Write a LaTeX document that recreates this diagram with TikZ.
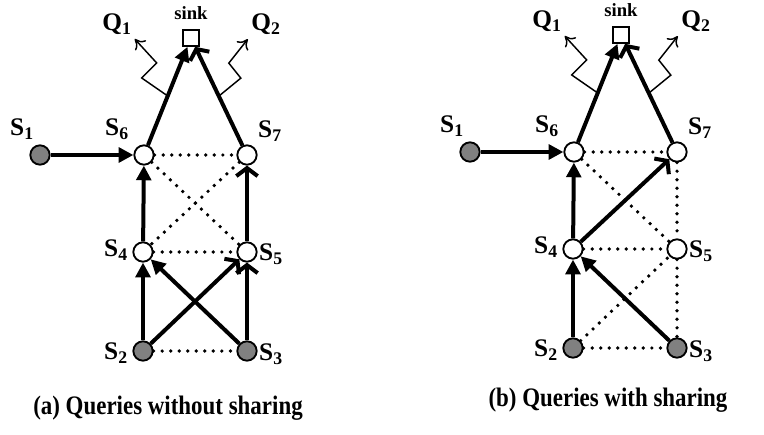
\documentclass[tikz,border=0pt]{standalone}
\usepackage{fontspec}
\setmainfont{Liberation Serif}
\usetikzlibrary{arrows.meta}
\definecolor{src-gray}{HTML}{808080}

\tikzset{
  sensor/.style={circle, draw, line width=1.4pt, fill=white,
                 inner sep=0pt, minimum size=14.5pt},
  source/.style={sensor, fill=src-gray},
  sinkbox/.style={draw, line width=1.2pt, fill=white, inner sep=0pt,
                  minimum size=12pt},
  lbl/.style={font=\bfseries\fontsize{19}{21}\selectfont, inner sep=0pt},
  sinklbl/.style={font=\bfseries\fontsize{14}{16}\selectfont, inner sep=0pt},
  caption/.style={font=\bfseries\fontsize{20}{23}\selectfont, xscale=0.86},
  flow/.style={line width=3pt, -{Triangle[length=11pt,width=11pt]}},
  flowopen/.style={line width=3pt,
                   -{Straight Barb[length=6pt,width=16pt,line width=3pt]}},
  link/.style={line width=2.8pt, dash pattern=on 0pt off 6.4pt, line cap=round},
  query/.style={line width=1.1pt, -{To[length=7pt,width=11pt]}}
}

\begin{document}
\begin{tikzpicture}[x=0.75pt, y=-0.75pt]
  \useasboundingbox (0,0) rectangle (764,435);

  % (a) every query builds its own tree
  \begin{scope}
    \node[source] (a-S1) at (40,155) {};
    \node[sensor] (a-S6) at (144,155) {};
    \node[sensor] (a-S7) at (247,155) {};
    \node[sensor] (a-S4) at (143,252) {};
    \node[sensor] (a-S5) at (247,252) {};
    \node[source] (a-S2) at (143,351) {};
    \node[source] (a-S3) at (247,351) {};
    \node[sinkbox] (a-sink) at (191,38) {};

    \node[lbl] (a-l1) at (22,129) {S\textsubscript{1}};
    \node[lbl] (a-l6) at (117,129) {S\textsubscript{6}};
    \node[lbl] (a-l7) at (270,131) {S\textsubscript{7}};
    \node[lbl] (a-l4) at (116,250) {S\textsubscript{4}};
    \node[lbl] (a-l5) at (271,254) {S\textsubscript{5}};
    \node[lbl] (a-l2) at (116,353) {S\textsubscript{2}};
    \node[lbl] (a-l3) at (271,354) {S\textsubscript{3}};
    \node[sinklbl] (a-ls) at (191,13) {sink};
    \node[lbl] (a-q1) at (117,24) {Q\textsubscript{1}};
    \node[lbl] (a-q2) at (266,24) {Q\textsubscript{2}};

    % radio links
    \draw[link] (a-S6) -- (a-S7);
    \draw[link] (a-S6) -- (a-S5);
    \draw[link] (a-S7) -- (a-S4);
    \draw[link] (a-S4) -- (a-S5);
    \draw[link] (a-S2) -- (a-S3);

    % routing trees
    \draw[flow] (a-S1) -- (a-S6);
    \draw[flow] (a-S6) -- coordinate[pos=0.5] (a-m1) (a-sink);
    \draw[flowopen] (a-S7) -- coordinate[pos=0.5] (a-m2) (a-sink);
    \draw[flow] (a-S4) -- (a-S6);
    \draw[flowopen] (a-S5) -- (a-S7);
    \draw[flow] (a-S2) -- (a-S4);
    \draw[flowopen] (a-S2) -- (a-S5);
    \draw[flow] (a-S3) -- (a-S4);
    \draw[flowopen] (a-S3) -- (a-S5);

    % results leaving towards the users
    \draw[query] (a-m1) -- ++(-26,-18) -- ++(15,-15) -- ++(-22,-24);
    \draw[query] (a-m2) -- ++(22,-18) -- ++(-12,-15) -- ++(19,-24);

    \node[caption] (a-cap) at (168,408) {(a) Queries without sharing};
  \end{scope}

  % (b) the two queries share one tree
  \begin{scope}[shift={(430,-3)}]
    \node[source] (b-S1) at (40,155) {};
    \node[sensor] (b-S6) at (144,155) {};
    \node[sensor] (b-S7) at (247,155) {};
    \node[sensor] (b-S4) at (143,252) {};
    \node[sensor] (b-S5) at (247,252) {};
    \node[source] (b-S2) at (143,351) {};
    \node[source] (b-S3) at (247,351) {};
    \node[sinkbox] (b-sink) at (191,38) {};

    \node[lbl] (b-l1) at (22,129) {S\textsubscript{1}};
    \node[lbl] (b-l6) at (117,129) {S\textsubscript{6}};
    \node[lbl] (b-l7) at (270,131) {S\textsubscript{7}};
    \node[lbl] (b-l4) at (116,250) {S\textsubscript{4}};
    \node[lbl] (b-l5) at (271,254) {S\textsubscript{5}};
    \node[lbl] (b-l2) at (116,353) {S\textsubscript{2}};
    \node[lbl] (b-l3) at (271,354) {S\textsubscript{3}};
    \node[sinklbl] (b-ls) at (191,13) {sink};
    \node[lbl] (b-q1) at (117,24) {Q\textsubscript{1}};
    \node[lbl] (b-q2) at (266,24) {Q\textsubscript{2}};

    % radio links
    \draw[link] (b-S6) -- (b-S7);
    \draw[link] (b-S6) -- (b-S5);
    \draw[link] (b-S7) -- (b-S5);
    \draw[link] (b-S4) -- (b-S5);
    \draw[link] (b-S2) -- (b-S5);
    \draw[link] (b-S5) -- (b-S3);
    \draw[link] (b-S2) -- (b-S3);

    % shared routing tree
    \draw[flow] (b-S1) -- (b-S6);
    \draw[flow] (b-S6) -- coordinate[pos=0.5] (b-m1) (b-sink);
    \draw[flowopen] (b-S7) -- coordinate[pos=0.5] (b-m2) (b-sink);
    \draw[flow] (b-S4) -- (b-S6);
    \draw[flowopen] (b-S4) -- (b-S7);
    \draw[flow] (b-S2) -- (b-S4);
    \draw[flow] (b-S3) -- (b-S4);

    \draw[query] (b-m1) -- ++(-26,-18) -- ++(15,-15) -- ++(-22,-24);
    \draw[query] (b-m2) -- ++(22,-18) -- ++(-12,-15) -- ++(19,-24);

    \node[caption] (b-cap) at (178,403) {(b) Queries with sharing};
  \end{scope}
\end{tikzpicture}
\end{document}
